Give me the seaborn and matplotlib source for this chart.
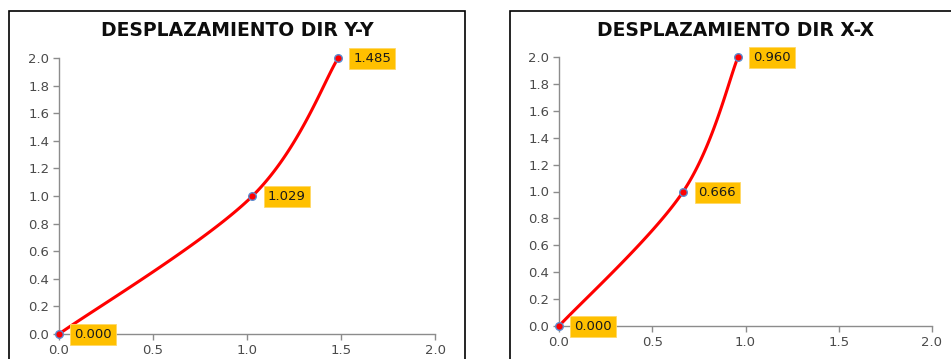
import numpy as np
import pandas as pd
import matplotlib
matplotlib.use("Agg")
import matplotlib.pyplot as plt
from matplotlib.patches import Rectangle
import seaborn as sns

# Story drift data: displacement (x) against level (y)
levels = [0.0, 1.0, 2.0]
disp_yy = [0.000, 1.029, 1.485]
disp_xx = [0.000, 0.666, 0.960]
titles = ["DESPLAZAMIENTO DIR Y-Y", "DESPLAZAMIENTO DIR X-X"]
ticks = [0.0, 0.5, 1.0, 1.5, 2.0]
tick_labels = ["0.0", "0.5", "1.0", "1.5", "2.0"]
y_ticks = [0.0, 0.2, 0.4, 0.6, 0.8, 1.0, 1.2, 1.4, 1.6, 1.8, 2.0]

sns.set_theme(style="white")
plt.rcParams["font.family"] = ["DejaVu Sans"]

W, H = 951, 359
fig = plt.figure(figsize=(W / 100, H / 100), dpi=100)


def smooth(xs, ys, n=60):
    """Excel-style smoothed line: cubic Bezier segments with Catmull-Rom control points."""
    pts = np.column_stack([xs, ys]).astype(float)
    ext = np.vstack([pts[0], pts, pts[-1]])
    out = []
    t = np.linspace(0, 1, n)[:, None]
    for i in range(len(pts) - 1):
        p0, p1, p2, p3 = ext[i], ext[i + 1], ext[i + 2], ext[i + 3]
        c1 = p1 + (p2 - p0) / 6
        c2 = p2 - (p3 - p1) / 6
        seg = ((1 - t) ** 3) * p1 + 3 * ((1 - t) ** 2) * t * c1 + 3 * (1 - t) * t ** 2 * c2 + t ** 3 * p2
        out.append(seg if i == 0 else seg[1:])
    return np.vstack(out)


def px_axes(x0, x1, ytop, ybot):
    return fig.add_axes([x0 / W, (H - ybot) / H, (x1 - x0) / W, (ybot - ytop) / H])


def panel(ax, disp, title, title_x, title_y):
    curve = smooth(disp, levels)
    df_curve = pd.DataFrame({"d": curve[:, 0], "h": curve[:, 1]})
    df_pts = pd.DataFrame({"d": disp, "h": levels})
    sns.lineplot(data=df_curve, x="d", y="h", ax=ax, color="#FF0000", lw=2.2,
                 sort=False, estimator=None, clip_on=False)
    sns.scatterplot(data=df_pts, x="d", y="h", ax=ax, color="#FF0000", s=30,
                    edgecolor="#5B8BD0", linewidth=1.0, zorder=5, clip_on=False)
    for d, h in zip(disp, levels):
        ax.annotate(f"{d:.3f}", (d, h), xytext=(11, -0.5), textcoords="offset points",
                    ha="left", va="center", fontsize=9.5, color="#1a1a1a",
                    bbox=dict(boxstyle="square,pad=0.3", fc="#FFC000", ec="#FFD966", lw=0.6),
                    zorder=6, annotation_clip=False)
    ax.set_xlim(0, 2)
    ax.set_ylim(0, 2)
    ax.set_xticks(ticks)
    ax.set_xticklabels(tick_labels)
    ax.set_yticks(y_ticks)
    ax.set_yticklabels([f"{v:.1f}" for v in y_ticks])
    ax.set_xlabel("")
    ax.set_ylabel("")
    for s in ["top", "right"]:
        ax.spines[s].set_visible(False)
    for s in ["left", "bottom"]:
        ax.spines[s].set_color("#8C8C8C")
        ax.spines[s].set_linewidth(1.0)
    ax.tick_params(axis="both", which="major", direction="out", length=4, width=1.0,
                   color="#8C8C8C", labelsize=9.5, labelcolor="#4a4a4a", pad=3,
                   bottom=True, left=True)
    fig.text(title_x / W, 1 - title_y / H, title, ha="center", va="center",
             fontsize=13.5, fontweight="bold", color="#0d0d0d")


ax1 = px_axes(59, 435, 58, 334)
ax2 = px_axes(559, 932, 57, 326)
panel(ax1, disp_yy, titles[0], 237, 31)
panel(ax2, disp_xx, titles[1], 736, 31)

# chart frames
fig.add_artist(Rectangle((9 / W, -0.05), (465 - 9) / W, 1.05 - 11 / H,
                         transform=fig.transFigure, fill=False, ec="black", lw=1.2))
fig.add_artist(Rectangle((510 / W, -0.05), 0.6, 1.05 - 11 / H,
                         transform=fig.transFigure, fill=False, ec="black", lw=1.2))

fig.savefig("out.png", dpi=100)
